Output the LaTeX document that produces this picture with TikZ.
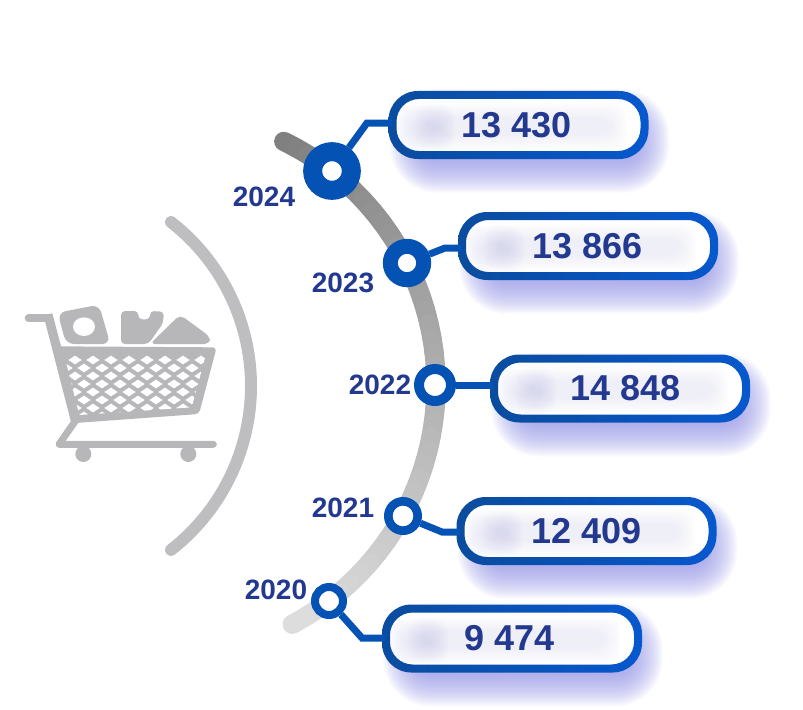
\documentclass[tikz,border=0pt]{standalone}
\usepackage{fontspec}
\setmainfont{Liberation Sans}
\definecolor{ringblue}{HTML}{0552B5}
\definecolor{ringdark}{HTML}{0A4C9E}
\definecolor{ringbright}{HTML}{0758CE}
\definecolor{textblue}{HTML}{22398F}
\definecolor{glowblue}{HTML}{8E8EE4}
\definecolor{cartgray}{HTML}{B7B7BA}
\tikzset{
  valuebox/.style={rounded corners=19pt, minimum width=189pt, minimum height=45pt, inner sep=0pt,
    text=textblue, font=\fontsize{27}{30}\selectfont\bfseries},
  yearlabel/.style={text=textblue, inner sep=0pt, font=\fontsize{21}{24}\selectfont\bfseries},
  yearring/.style={circle, draw=ringblue, fill=white, inner sep=0pt},
  link/.style={draw=ringblue, line width=5.25pt},
}
% shadow, inner glow and edge of one box, size 252 x 60
\newcommand{\boxglow}[2]{
  \foreach \s in {22,21,...,-16} {
    \pgfmathsetmacro{\rr}{max(4,19+0.75*\s)}
    \fill[glowblue, opacity=.035, rounded corners=\rr pt]
      (#1-126+19-\s,#2-30+16-\s) rectangle (#1+126+3+\s,#2+30+16+\s);
  }
  \fill[white, rounded corners=19pt] (#1-126,#2-30) rectangle (#1+126,#2+30);
  \foreach \s in {0,2,...,16}
    \fill[glowblue, opacity=.018, rounded corners=10pt]
      (#1-122+\s,#2-20+\s) rectangle (#1-64-\s,#2+26-\s);
  \foreach \s in {0,2,...,14}
    \fill[glowblue, opacity=.014, rounded corners=10pt]
      (#1-104+\s,#2-22+\s) rectangle (#1+108-\s,#2+24-\s);
  \shade[left color=ringdark, right color=ringbright, even odd rule]
    [rounded corners=22pt] (#1-130,#2-34) rectangle (#1+130,#2+34)
    [rounded corners=17pt] (#1-122,#2-26) rectangle (#1+122,#2+26);
}
\begin{document}
\begin{tikzpicture}[x=0.75pt,y=-0.75pt]
\useasboundingbox (0,0) rectangle (803,710);

% big arc, dark at the top
\foreach \a in {-64,-61,...,60} {
  \pgfmathsetmacro{\p}{50-(\a+64)/127*38}
  \draw[black!\p!white, line width=14.5pt, line cap=round] (165,385) ++(\a:271) arc[start angle=\a, delta angle=3, radius=271];
}
% small arc
\draw[cartgray!90!white, line width=9pt, line cap=round] (43,386) ++(-52:208) arc[start angle=-52, end angle=52, radius=208];

% cart
\begin{scope}[shift={(0,280)},x=0.25pt,y=-0.25pt]
\fill[cartgray, rounded corners=6pt] (173,98) -- (297,74) -- (331,192) -- (198,192) -- cycle;
\fill[white] (252,140) ellipse (33 and 28);
\fill[cartgray, rounded corners=3pt] (363,93) -- (415,93) -- (415,118) -- (450,118) -- (450,93) -- (492,95) -- (489,130) -- (445,192) -- (363,192) -- cycle;
\fill[cartgray, rounded corners=4pt] (450,192) -- (540,104) -- (630,170) -- (630,192) -- cycle;
\draw[cartgray, line width=6pt, line cap=round] (86,115) -- (145,115);
\fill[cartgray] (130,105) -- (157,100) -- (242,420) -- (213,425) -- cycle;
\fill[cartgray, rounded corners=3pt] (172,199) -- (650,202) -- (597,402) -- (213,430) -- cycle;
\draw[cartgray, line width=5.25pt, line join=round, line cap=round] (228,420) -- (177,493) -- (640,493);
\fill[cartgray] (250,522) circle (24);
\fill[cartgray] (565,522) circle (24);
\begin{scope}
\clip (192,222) -- (618,222) -- (575,382) -- (238,405) -- cycle;
\foreach \r in {0,1,...,7}
  \foreach \c in {-1,0,...,8} {
    \pgfmathsetmacro{\cx}{225+54*\c+mod(\r,2)*27}
    \pgfmathsetmacro{\cy}{240+24*\r}
    \fill[white] (\cx-20,\cy) -- (\cx,\cy-13) -- (\cx+20,\cy) -- (\cx,\cy+13) -- cycle;
  }
\end{scope}
\end{scope}

% boxes
\boxglow{518.5}{125}
\boxglow{588}{246}
\boxglow{620}{388.5}
\boxglow{586.5}{531}
\boxglow{512}{638.5}
\node[valuebox] (v24) at (518.5,125) {\hspace*{-3pt}13 430};
\node[valuebox] (v23) at (588,246) {\raisebox{-2pt}{13 866}};
\node[valuebox] (v22) at (620,388.5) {\hspace*{8pt}\raisebox{-1pt}{14 848}};
\node[valuebox] (v21) at (586.5,531) {\raisebox{-1pt}{12 409}};
\node[valuebox] (v20) at (512,638.5) {\hspace*{-3pt}\raisebox{-1pt}{9 474}};

% rings
\node[yearring, line width=14.25pt, minimum size=29pt] (y24) at (332,171) {};
\node[yearring, line width=11.25pt, minimum size=25pt] (y23) at (407,263) {};
\node[yearring, line width=7.5pt, minimum size=24pt] (y22) at (435,385) {};
\node[yearring, line width=6.5pt, minimum size=22pt] (y21) at (403,516) {};
\node[yearring, line width=6pt, minimum size=21pt] (y20) at (329,601) {};

\coordinate (j24) at (367,123);
\coordinate (j23) at (445,248);
\coordinate (j21) at (442,532);
\coordinate (j20) at (362,638);

\draw[link] (y24) -- (j24) -- (j24 -| v24.west);
\draw[link] (y23) -- (j23) -- (j23 -| v23.west);
\draw[link] (y22) -- (y22 -| v22.west);
\draw[link] (y21) -- (j21) -- (j21 -| v21.west);
\draw[link] (y20) -- (j20) -- (j20 -| v20.west);

\node[yearlabel] (l24) at (264,197) {2024};
\node[yearlabel] (l23) at (343,283) {2023};
\node[yearlabel] (l22) at (380,385) {2022};
\node[yearlabel] (l21) at (343,508) {2021};
\node[yearlabel] (l20) at (276,590) {2020};
\end{tikzpicture}
\end{document}
